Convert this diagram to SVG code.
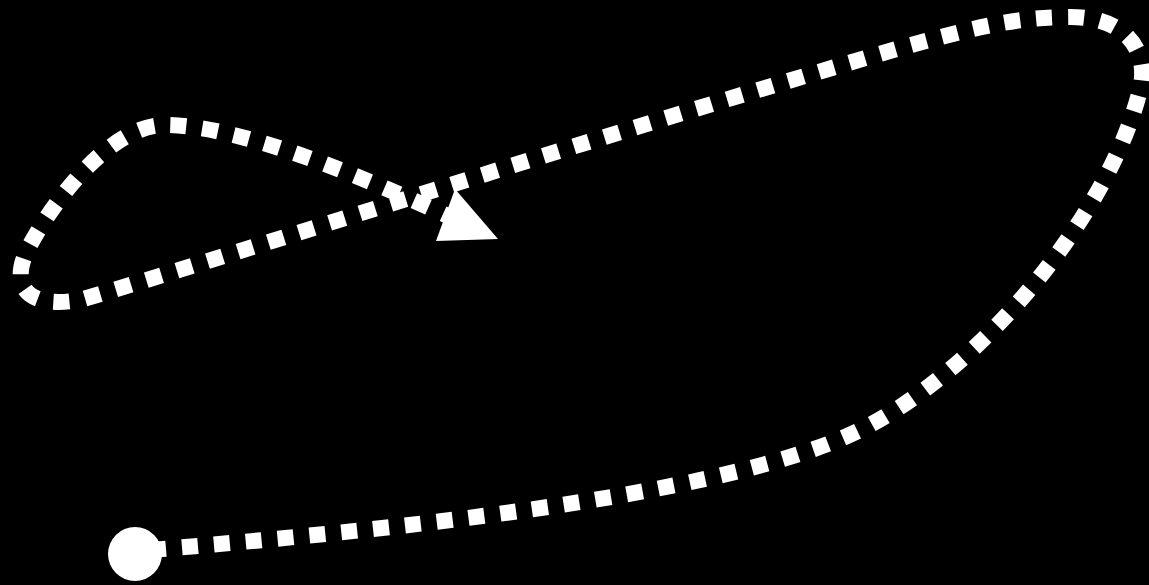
<svg xmlns="http://www.w3.org/2000/svg" width="1149" height="585" viewBox="0 0 1149 585">
<style>
.conn{fill:none;stroke:#fff;stroke-width:16;stroke-dasharray:16 16}
.w{fill:#fff}
</style>
<rect width="1149" height="585" fill="#000"/>
<g id="connectors">
<path class="conn" d="M150,550 C450,525 750,490 870,425 C990,360 1110,210 1140,90 C1150,50 1125,15 1065,17 C1005,18 960,32 900,48 C600,135 250,250 80,300 C20,310 10,280 30,245 C60,190 115,125 165,125 C245,125 380,185 448,216"/>
<polygon class="w" points="455,189 498,239 436,241"/>
</g>
<g id="start">
<circle class="w" cx="135" cy="554" r="27"/>
</g>
</svg>
